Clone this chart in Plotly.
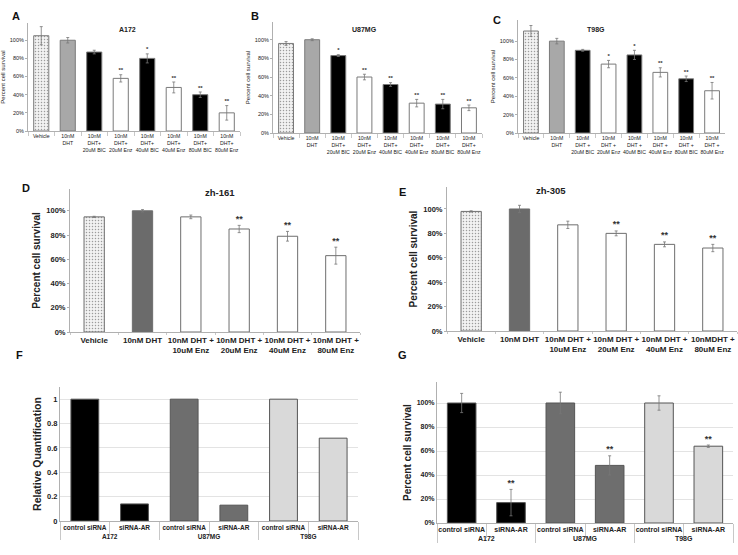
import plotly.graph_objects as go

W, H = 738, 555

# ---- data ----
abc_cats = ["Vehicle", "10nM<br>DHT",
            "10nM<br>DHT+<br>20uM BIC", "10nM<br>DHT+<br>20uM Enz",
            "10nM<br>DHT+<br>40uM BIC", "10nM<br>DHT+<br>40uM Enz",
            "10nM<br>DHT+<br>80uM BIC", "10nM<br>DHT+<br>80uM Enz"]
c_cats = ["Vehicle", "10nM<br>DHT",
          "10nM<br>DHT +<br>20uM BIC", "10nM<br>DHT +<br>20uM Enz",
          "10nM<br>DHT +<br>40uM BIC", "10nM<br>DHT +<br>40uM Enz",
          "10nM<br>DHT +<br>80uM BIC", "10nM<br>DHT +<br>80uM Enz"]

a172 = [105, 100, 87, 58, 80, 48, 40, 20]
a172_err = [10, 3, 2, 4, 5, 6, 3, 8]
a172_sig = ["", "", "", "**", "*", "**", "**", "**"]

u87 = [96, 100, 83, 60, 52, 32, 31, 27]
u87_err = [2, 1, 1, 3, 2, 4, 5, 3]
u87_sig = ["", "", "*", "**", "**", "**", "**", "**"]

t98 = [111, 100, 90, 75, 85, 66, 59, 46]
t98_err = [6, 3, 1, 4, 5, 5, 3, 9]
t98_sig = ["", "", "", "*", "*", "**", "**", "**"]

d_cats = ["Vehicle", "10nM DHT", "10nM DHT +<br>10uM Enz", "10nM DHT +<br>20uM Enz",
          "10nM DHT +<br>40uM Enz", "10nM DHT +<br>80uM Enz"]
e_cats = ["Vehicle", "10nM DHT", "10nM DHT +<br>10uM Enz", "10nM DHT +<br>20uM Enz",
          "10nM DHT +<br>40uM Enz", "10nMDHT +<br>80uM Enz"]

zh161 = [95, 100, 95, 85, 79, 63]
zh161_err = [0.5, 1, 1.5, 3, 4, 7]
zh305 = [98, 100, 87, 80, 71, 68]
zh305_err = [0.5, 3, 3, 2, 2, 3]
de_sig = ["", "", "", "**", "**", "**"]

lines = ["A172", "A172", "U87MG", "U87MG", "T98G", "T98G"]
sirna = ["control siRNA", "siRNA-AR"] * 3
rel_quant = [1, 0.14, 1, 0.13, 1, 0.68]
g_surv = [100, 17, 100, 48, 100, 64]
g_err = [8, 11, 9, 8, 6, 1]
g_sig = ["", "**", "", "**", "", "**"]

FONT = "Liberation Sans, Arial, sans-serif"
fig = go.Figure()


def dom(x0, x1, ytop, ybot):
    return [x0 / W, x1 / W], [1 - ybot / H, 1 - ytop / H]


def add_axes(n, x0, x1, ytop, ybot, yrange, ytitle, tsize, ysize, pct=True,
             grid=False, multicat=False, ttsize=6, bold=False, xticklen=2):
    xd, yd = dom(x0, x1, ytop, ybot)
    sfx = "" if n == 1 else str(n)
    w = "bold" if bold else "normal"
    if pct:
        tv = [0, 20, 40, 60, 80, 100]
        tt = [f"{v}%" for v in tv]
    else:
        tv = [0, 0.2, 0.4, 0.6, 0.8, 1]
        tt = ["0", "0.2", "0.4", "0.6", "0.8", "1"]
    fig.layout["xaxis" + sfx] = dict(
        domain=xd, anchor="y" + sfx, showline=True, linecolor="#b0b0b0",
        ticks="outside", ticklen=xticklen, tickcolor="#c8c8c8",
        tickson="boundaries", tickangle=0, automargin=False,
        tickfont=dict(size=tsize, family=FONT, color="#222", weight=w),
        showgrid=False, fixedrange=True, dividercolor="#c8c8c8", dividerwidth=1,
        type="multicategory" if multicat else "category")
    fig.layout["yaxis" + sfx] = dict(
        domain=yd, anchor="x" + sfx, range=yrange, tickvals=tv, ticktext=tt,
        showline=True, linecolor="#b0b0b0", automargin=False,
        ticks="" if grid else "outside", ticklen=2, tickcolor="#b0b0b0",
        tickfont=dict(size=ysize, family=FONT, color="#222", weight=w),
        showgrid=grid, gridcolor="#e3e3e3", zeroline=False,
        title=dict(text=ytitle, font=dict(size=ttsize, family=FONT, color="#222", weight=w),
                   standoff=3))


def bars(n, x, y, colors, err=None, width=0.57, pattern_first=True, line="#7a7a7a"):
    sfx = "" if n == 1 else str(n)
    shapes = ["."] + [""] * (len(y) - 1) if pattern_first else [""] * len(y)
    fig.add_trace(go.Bar(
        x=x, y=y, xaxis="x" + sfx, yaxis="y" + sfx, width=width,
        marker=dict(color=colors, line=dict(color=line, width=1),
                    pattern=dict(shape=shapes, fgcolor="#cfcfcf", bgcolor="#f7f7f7",
                                 size=3, solidity=0.2)),
        error_y=dict(type="data", array=err, color="#777", thickness=0.8, width=1.5,
                     visible=err is not None),
        showlegend=False, hoverinfo="skip"))


def stars(n, x, y, err, sig, size):
    sfx = "" if n == 1 else str(n)
    fig.add_trace(go.Scatter(
        x=x, y=[v + e + 1 for v, e in zip(y, err)], text=sig, mode="text",
        textposition="top center", xaxis="x" + sfx, yaxis="y" + sfx,
        textfont=dict(size=size, family=FONT, color="#333", weight="bold"),
        showlegend=False, hoverinfo="skip"))


abc_cols = ["#f2f2f2", "#a8a8a8", "black", "white", "black", "white", "black", "white"]

# A
add_axes(1, 28, 240, 23, 131, [0, 119], "Percent cell survival", 5.2, 5.5, ttsize=6, xticklen=4)
bars(1, abc_cats, a172, abc_cols, a172_err)
stars(1, abc_cats, a172, a172_err, a172_sig, 6)
# B
add_axes(2, 273, 482, 22, 133, [0, 119], "Percent cell survival", 5.2, 5.5, ttsize=6, xticklen=4)
bars(2, abc_cats, u87, abc_cols, u87_err)
stars(2, abc_cats, u87, u87_err, u87_sig, 6)
# C
add_axes(3, 518, 725, 20, 133, [0, 123], "Percent cell survival", 5.2, 5.5, ttsize=6, xticklen=4)
bars(3, c_cats, t98, abc_cols, t98_err)
stars(3, c_cats, t98, t98_err, t98_sig, 6)

de_cols = ["#f2f2f2", "#6b6b6b", "white", "white", "white", "white"]
# D
add_axes(4, 70, 360, 189, 332, [0, 118], "Percent cell survival", 8, 7.5, ttsize=10, bold=True)
bars(4, d_cats, zh161, de_cols, zh161_err, width=0.42, line="#6e6e6e")
stars(4, d_cats, zh161, zh161_err, de_sig, 9)
# E
add_axes(5, 447, 737, 187, 331, [0, 118], "Percent cell survival", 8, 7.5, ttsize=10, bold=True)
bars(5, e_cats, zh305, de_cols, zh305_err, width=0.42, line="#6e6e6e")
stars(5, e_cats, zh305, zh305_err, de_sig, 9)

fg_cols = ["black", "black", "#6e6e6e", "#6e6e6e", "#d9d9d9", "#d9d9d9"]
fg_x = [lines, sirna]
# F
add_axes(6, 60, 358, 387, 521, [0, 1.1], "Relative Quantification", 6.5, 7.5,
         pct=False, grid=True, multicat=True, ttsize=10.5, bold=True, xticklen=14)
bars(6, fg_x, rel_quant, fg_cols, width=0.56, pattern_first=False, line="#555")
# G
add_axes(7, 437, 733, 382, 523, [0, 117.5], "Percent cell survival", 7, 7,
         grid=True, multicat=True, ttsize=10, bold=True, xticklen=14)
bars(7, fg_x, g_surv, fg_cols, g_err, width=0.58, pattern_first=False, line="#555")
stars(7, fg_x, g_surv, g_err, g_sig, 9)

# panel titles and letters
notes = [("A172", 117, 24, 7), ("U87MG", 364, 24, 7), ("T98G", 607, 24, 7),
         ("zh-161", 203, 192, 9.5), ("zh-305", 568, 190, 9.5)]
for txt, x, y, s in notes:
    fig.add_annotation(text=txt, x=x / W, y=1 - y / H, xref="paper", yref="paper",
                       showarrow=False, font=dict(size=s, family=FONT, color="#222", weight="bold"))
letters = [("A", 10, 8), ("B", 255, 8), ("C", 503, 12), ("D", 20, 188),
           ("E", 402, 184), ("F", 14, 355), ("G", 402, 355)]
for txt, x, y in letters:
    fig.add_annotation(text=txt, x=x / W, y=1 - y / H, xref="paper", yref="paper",
                       showarrow=False, font=dict(size=11, family=FONT, color="#111", weight="bold"))

fig.update_layout(width=W, height=H, margin=dict(l=0, r=0, t=0, b=0),
                  paper_bgcolor="white", plot_bgcolor="white", bargap=0.4)

# drop the default page margin so the figure sits at the window's corner
fig.write_html("out.html", config={"displayModeBar": False},
               post_script="document.body.style.margin='0';")
